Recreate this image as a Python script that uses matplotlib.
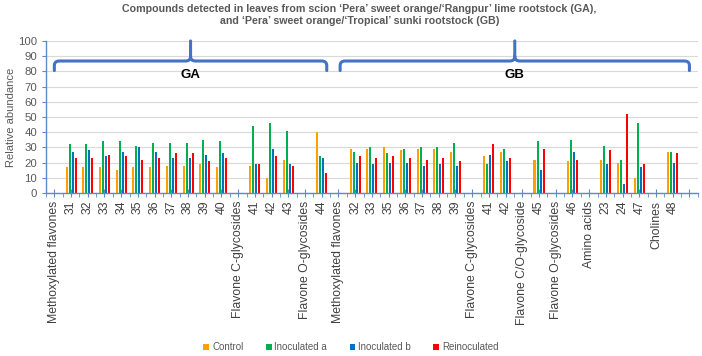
import numpy as np
import matplotlib
matplotlib.use('agg')
from matplotlib import pyplot as plt
from matplotlib.path import Path
from matplotlib.patches import PathPatch

plt.rcParams['font.family'] = ['Liberation Sans', 'DejaVu Sans']

# category slots along the x axis (headers carry no bars)
labels = ['Methoxylated flavones', '31', '32', '33', '34', '35', '36', '37',
          '38', '39', '40', 'Flavone C-glycosides', '41', '42', '43',
          'Flavone O-glycosides', '44',
          'Methoxylated flavones', '32', '33', '35', '36', '37', '38', '39',
          'Flavone C-glycosides', '41', '42', 'Flavone C/O-glycoside', '45',
          'Flavone O-glycosides', '46', 'Amino acids', '23', '24', '47',
          'Cholines', '48', '']

n = np.nan
control = [n, 17, 17, 17, 15, 17, 17, 18, 18, 19, 17, n, 18, 10, 22, n, 40,
           n, 29, 29, 30, 28, 29, 29, 27, n, 24, 27, n, 22, n, 21, n, 22, 20,
           10, n, 27, n]
inoc_a = [n, 32, 32, 34, 34, 31, 33, 33, 33, 35, 34, n, 44, 46, 41, n, 24,
          n, 27, 30, 26, 29, 30, 30, 33, n, 19, 29, n, 34, n, 35, n, 31, 22,
          46, n, 27, n]
inoc_b = [n, 27, 28, 24, 27, 30, 27, 23, 23, 25, 26, n, 19, 29, 19, n, 23,
          n, 20, 19, 20, 20, 18, 19, 18, n, 25, 21, n, 15, n, 27, n, 19, 6,
          17, n, 20, n]
reinoc = [n, 23, 23, 25, 24, 22, 23, 26, 26, 21, 23, n, 19, 24, 18, n, 13,
          n, 24, 23, 24, 23, 22, 23, 21, n, 32, 23, n, 29, n, 22, n, 28, 52,
          19, n, 26, n]

series = [('Control', control, '#FFA000'),
          ('Inoculated a', inoc_a, '#00B050'),
          ('Inoculated b', inoc_b, '#0070C0'),
          ('Reinoculated', reinoc, '#FF0000')]

# rootstock groups: (name, first slot, last slot)
groups = [('GA', 0, 16.3), ('GB', 17.1, 38.0)]

blue = '#4472C4'
axis_col = '#5B8BC9'


def draw_brace(ax, x0, x1, y0, y1, ytop, rx=0.3, ry=3.0):
    """Curly-ish bracket over a group of slots."""
    xm = (x0 + x1) / 2
    verts = [(x0, y0), (x0, y1 - ry), (x0, y1), (x0 + rx, y1),
             (xm - rx, y1), (xm, y1), (xm, y1 + ry), (xm, ytop),
             (xm, y1 + ry), (xm, y1), (xm + rx, y1),
             (x1 - rx, y1), (x1, y1), (x1, y1 - ry), (x1, y0)]
    codes = [Path.MOVETO, Path.LINETO, Path.CURVE3, Path.CURVE3,
             Path.LINETO, Path.CURVE3, Path.CURVE3, Path.LINETO,
             Path.MOVETO, Path.CURVE3, Path.CURVE3,
             Path.LINETO, Path.CURVE3, Path.CURVE3, Path.LINETO]
    ax.add_patch(PathPatch(Path(verts, codes), fill=False, ec=blue, lw=2.2,
                           capstyle='round', joinstyle='round',
                           clip_on=False, zorder=4))
    return xm


fig = plt.figure(figsize=(7.02, 3.56), dpi=100)
ax = fig.add_axes([0.0655, 0.458, 0.9285, 0.427])

x = np.arange(len(labels))
width = 0.12
offsets = [-0.27, -0.09, 0.09, 0.27]
for (name, vals, col), off in zip(series, offsets):
    ax.bar(x + off, vals, width, color=col, label=name, zorder=2)

ax.set_xlim(-0.5, len(labels) - 0.5)
ax.set_ylim(0, 100)
ax.set_yticks(np.arange(0, 101, 10))
ax.yaxis.grid(True, color='#D9D9D9', lw=0.8, zorder=0)
ax.set_axisbelow(True)

ax.set_xticks(x, labels, rotation=90, fontsize=8.8, color='#404040')
ax.set_xticks(np.arange(-0.5, len(labels), 1), minor=True)
ax.tick_params(axis='x', which='major', direction='inout', length=6,
               color=axis_col, pad=2.5)
ax.tick_params(axis='x', which='minor', direction='out', length=3,
               color=axis_col)
ax.tick_params(axis='y', labelsize=8.2, labelcolor='#595959', length=3,
               color=axis_col)
ax.set_ylabel('Relative abundance', fontsize=8, color='#595959', labelpad=1)

for side in ('top', 'right'):
    ax.spines[side].set_visible(False)
for side in ('left', 'bottom'):
    ax.spines[side].set_color(axis_col)
    ax.spines[side].set_linewidth(1)

for name, a, b in groups:
    xm = draw_brace(ax, a, b, 80.5, 86.8, 100)
    ax.text(xm, 77.5, name, ha='center', va='center', fontsize=9.5,
            fontweight='bold', color='black')

fig.text(0.512, 0.99,
         'Compounds detected in leaves from scion \u2018Pera\u2019 sweet '
         'orange/\u2018Rangpur\u2019 lime rootstock (GA),\n'
         'and \u2018Pera\u2019 sweet orange/\u2018Tropical\u2019 sunki '
         'rootstock (GB)',
         ha='center', va='top', fontsize=7.7, fontweight='bold',
         color='#595959', linespacing=1.3)

fig.legend(loc='center', bbox_to_anchor=(0.5, 0.025), ncol=4, frameon=False,
           fontsize=7, handlelength=0.6, handleheight=0.6,
           handletextpad=0.3, columnspacing=2.3, labelcolor='#595959')

fig.savefig('out.png', dpi=100)
